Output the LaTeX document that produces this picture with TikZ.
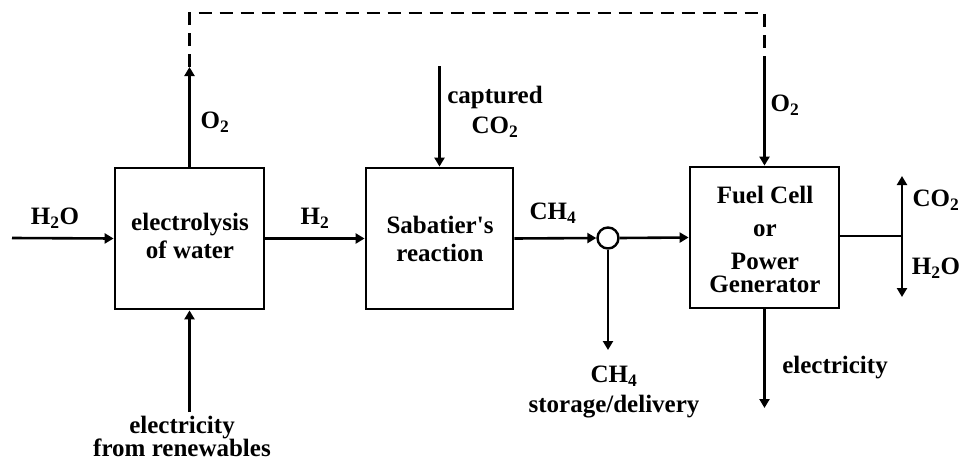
\documentclass[tikz,border=0pt]{standalone}
\usepackage{fontspec}
\setmainfont{Liberation Serif}
\usetikzlibrary{arrows.meta}
\begin{document}
\begin{tikzpicture}[x=1pt,y=-1pt,
  blk/.style={draw,line width=2.8pt,minimum width=149pt,minimum height=141pt,inner sep=0pt},
  flow/.style={line width=2.6pt,-{Triangle[length=9pt,width=10pt]}},
  plain/.style={line width=2.6pt},
  fb/.style={line width=2.6pt,dash pattern=on 13pt off 8pt},
  lbl/.style={font=\bfseries\fontsize{25}{26}\selectfont,inner sep=0pt,align=center},
]
\useasboundingbox (0,0) rectangle (962,463);
% blocks
\node[blk] (elec) at (189.5,238.5) {};
\node[blk,minimum width=147pt] (sab) at (439.5,238.5) {};
\node[blk] (fc) at (764.5,237.5) {};
\node[draw,circle,line width=2.4pt,minimum size=21pt,inner sep=0pt] (junc) at (608,238) {};
% block texts
\node[lbl] (elecT) at (190,236) {electrolysis\\[2pt]of water};
\node[lbl] (sabT) at (440,239) {Sabatier\textquotesingle s\\[2pt]reaction};
\node[lbl] (fcT) at (765,239) {Fuel Cell\\[7pt]or\\[7pt]Power\\[-3pt]Generator};
% coordinates
\coordinate (h2oin) at (12,238);
\coordinate (o2top) at (189.5,67);
\coordinate (o2turn) at (189.5,13);
\coordinate (o2fc) at (764.5,65);
\coordinate (co2in) at (439.5,66);
\coordinate (ch4out) at (608,350);
\coordinate (elout) at (764.5,408);
\coordinate (renew) at (189.5,412);
\coordinate (split) at (902,236);
\coordinate (co2out) at (902,176);
\coordinate (h2oout) at (902,297);
% connectors
\draw[flow] (h2oin) -- (elec.west);
\draw[flow] (elec.east) -- (sab.west);
\draw[flow] (sab.east) -- (junc.west);
\draw[flow] (junc.east) -- (fc.west);
\draw[flow] (elec.north) -- (o2top);
\draw[fb] (o2top) -- (o2turn) -| (o2fc);
\draw[flow] (o2fc) -- (fc.north);
\draw[flow] (co2in) -- (sab.north);
\draw[flow] (junc.south) -- (ch4out);
\draw[flow] (fc.south) -- (elout);
\draw[flow] (renew) -- (elec.south);
\draw[plain] (fc.east |- split) -- (split);
\draw[flow] (split) -- (co2out);
\draw[flow] (split) -- (h2oout);
% labels
\node[lbl] (lh2o) at (55,218) {H\textsubscript{2}O};
\node[lbl] (lh2) at (315,218) {H\textsubscript{2}};
\node[lbl] (lo2a) at (215,122) {O\textsubscript{2}};
\node[lbl] (lco2) at (495,112) {captured\\[4pt]CO\textsubscript{2}};
\node[lbl] (lch4) at (553,213) {CH\textsubscript{4}};
\node[lbl] (lo2b) at (785,105) {O\textsubscript{2}};
\node[lbl] (lco2o) at (936,200) {CO\textsubscript{2}};
\node[lbl] (lh2oo) at (936,268) {H\textsubscript{2}O};
\node[lbl] (lstore) at (614,392) {CH\textsubscript{4}\\[4pt]storage/delivery};
\node[lbl] (lel) at (835,368) {electricity};
\node[lbl] (lren) at (182,436) {electricity\\[-3pt]from renewables};
\end{tikzpicture}
\end{document}
